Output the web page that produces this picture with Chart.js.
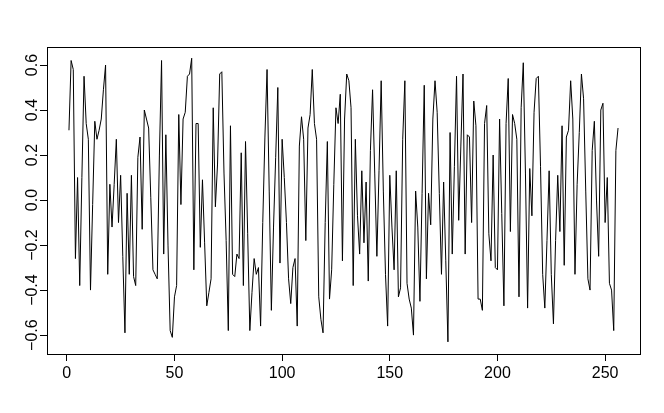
<!DOCTYPE html>
<html>
<head>
<meta charset="utf-8">
<script src="https://cdn.jsdelivr.net/npm/chart.js@4/dist/chart.umd.min.js"></script>
<style>
  html, body { margin: 0; padding: 0; background: #fff; }
  #wrap { width: 664px; height: 413px; }
</style>
</head>
<body>
<div id="wrap"><canvas id="chart" width="664" height="413"></canvas></div>
<script>
// values, index 1..256
const series = [
  0.31, 0.62, 0.58, -0.26, 0.10, -0.38, 0.10, 0.55, 0.34, 0.27,
  -0.40, -0.02, 0.35, 0.27, 0.31, 0.36, 0.49, 0.60, -0.33, 0.07,
  -0.12, 0.07, 0.27, -0.10, 0.11, -0.25, -0.59, 0.03, -0.33, 0.11,
  -0.34, -0.38, 0.19, 0.28, -0.13, 0.40, 0.36, 0.32, 0.01, -0.31,
  -0.33, -0.35, 0.20, 0.62, -0.24, 0.29, -0.20, -0.58, -0.61, -0.43,
  -0.38, 0.38, -0.02, 0.36, 0.39, 0.55, 0.56, 0.63, -0.31, 0.34,
  0.34, -0.21, 0.09, -0.19, -0.47, -0.41, -0.35, 0.41, -0.03, 0.16,
  0.56, 0.57, 0.12, -0.18, -0.58, 0.33, -0.33, -0.34, -0.24, -0.26,
  0.21, -0.38, 0.26, -0.15, -0.58, -0.41, -0.26, -0.33, -0.30, -0.56,
  -0.10, 0.28, 0.58, 0.04, -0.49, -0.12, 0.19, 0.50, -0.28, 0.27,
  0.10, -0.10, -0.35, -0.46, -0.30, -0.26, -0.56, 0.24, 0.37, 0.27,
  -0.18, 0.32, 0.38, 0.58, 0.34, 0.27, -0.43, -0.53, -0.59, -0.10,
  0.26, -0.44, -0.31, 0.07, 0.41, 0.34, 0.47, -0.27, 0.36, 0.56,
  0.53, 0.41, -0.38, 0.27, -0.07, -0.24, 0.13, -0.19, 0.08, -0.36,
  0.22, 0.49, 0.12, -0.25, 0.13, 0.53, 0.04, -0.33, -0.56, 0.11,
  -0.12, -0.31, 0.13, -0.43, -0.39, 0.27, 0.53, -0.37, -0.44, -0.48,
  -0.60, 0.04, -0.12, -0.45, 0.03, 0.51, -0.35, 0.03, -0.11, 0.36,
  0.53, 0.39, 0.03, -0.33, 0.08, -0.27, -0.63, 0.30, -0.24, 0.15,
  0.55, -0.09, 0.24, 0.56, -0.24, 0.29, 0.28, -0.10, 0.44, 0.33,
  -0.44, -0.44, -0.49, 0.34, 0.42, -0.15, -0.27, 0.20, -0.30, -0.31,
  0.36, -0.06, -0.47, 0.34, 0.54, -0.14, 0.38, 0.34, 0.27, -0.43,
  0.41, 0.61, 0.12, -0.48, 0.14, -0.07, 0.39, 0.54, 0.55, 0.15,
  -0.33, -0.48, -0.18, 0.13, -0.33, -0.55, -0.18, 0.11, -0.14, 0.33,
  -0.29, 0.28, 0.31, 0.53, 0.36, -0.33, 0.07, 0.30, 0.56, 0.45,
  0.04, -0.35, -0.40, 0.22, 0.35, 0.00, -0.25, 0.40, 0.43, -0.10,
  0.10, -0.37, -0.40, -0.58, 0.22, 0.32
];
const indexes = series.map((v, i) => i + 1);
const xTicks = [0, 50, 100, 150, 200, 250];
const yTicks = [-0.6, -0.4, -0.2, 0.0, 0.2, 0.4, 0.6];

const fontFamily = "'Liberation Sans', Arial, Helvetica, sans-serif";

// R style box round the plot region + rotated y labels
const boxPlugin = {
  id: "rbox",
  afterDraw(chart) {
    const { ctx, chartArea: a } = chart;
    ctx.save();
    ctx.strokeStyle = "#000";
    ctx.lineWidth = 1;
    ctx.strokeRect(Math.round(a.left) + 0.5, Math.round(a.top) + 0.5,
      Math.round(a.right - a.left), Math.round(a.bottom - a.top));
    const ys = chart.scales.y;
    ctx.fillStyle = "#000";
    ctx.font = "16px " + fontFamily;
    ctx.textAlign = "center";
    ctx.textBaseline = "alphabetic";
    yTicks.forEach((v) => {
      const py = ys.getPixelForValue(v);
      ctx.save();
      ctx.translate(37, py);
      ctx.rotate(-Math.PI / 2);
      const s = v.toFixed(1).replace("-", "\u2212");
      ctx.fillText(s, 0, 0);
      ctx.restore();
    });
    ctx.restore();
  }
};

new Chart(document.getElementById("chart").getContext("2d"), {
  type: "line",
  data: {
    labels: indexes,
    datasets: [
      {
        data: indexes.map((x, i) => ({ x: x, y: series[i] })),
        borderColor: "#000",
        borderWidth: 1,
        pointRadius: 0,
        tension: 0,
        fill: false,
      },
    ],
  },
  options: {
    responsive: false,
    animation: false,
    layout: { padding: { top: 47, right: 24, left: 0, bottom: 0 } },
    plugins: {
      legend: { display: false },
      tooltip: { enabled: false },
    },
    scales: {
      x: {
        type: "linear",
        min: -9.2,
        max: 266.2,
        afterBuildTicks: (s) => { s.ticks = xTicks.map((v) => ({ value: v })); },
        afterFit: (s) => { s.height = 59; },
        border: { display: false },
        grid: { drawOnChartArea: false, drawTicks: true, tickLength: 7, color: "#000" },
        ticks: {
          color: "#000",
          padding: 3,
          maxRotation: 0,
          font: { size: 16, family: fontFamily },
        },
      },
      y: {
        type: "linear",
        min: -0.684,
        max: 0.68,
        afterBuildTicks: (s) => { s.ticks = yTicks.map((v) => ({ value: v })); },
        afterFit: (s) => { s.width = 47; },
        border: { display: false },
        grid: { drawOnChartArea: false, drawTicks: true, tickLength: 7, color: "#000" },
        ticks: { display: false },
      },
    },
  },
  plugins: [boxPlugin],
});
</script>
</body>
</html>
